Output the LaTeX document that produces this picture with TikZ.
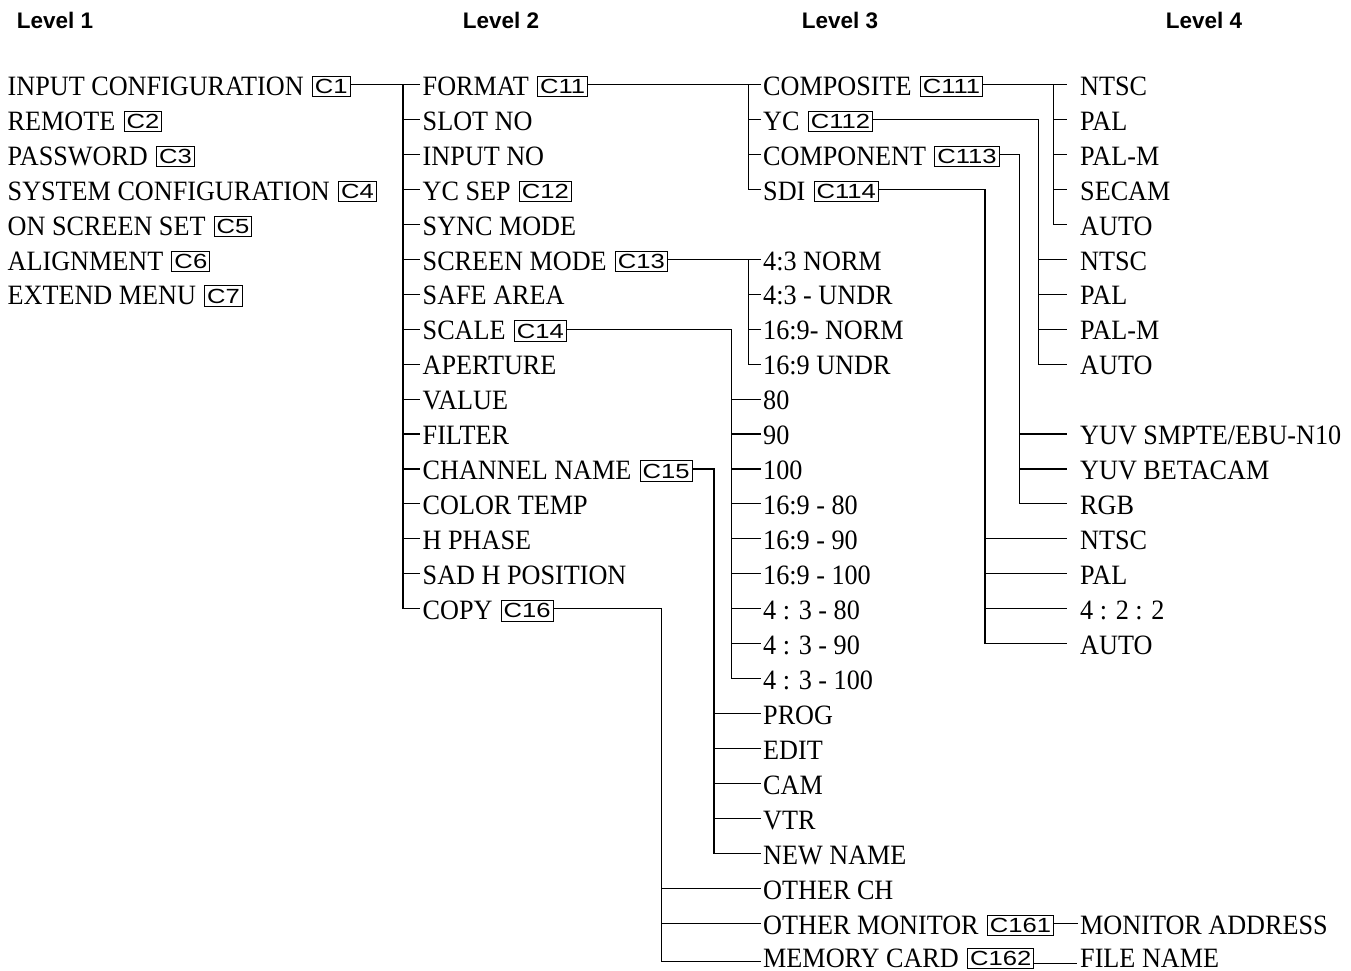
\documentclass[tikz,border=0pt]{standalone}
\usepackage{fontspec}
\setmainfont{Liberation Serif}[FakeStretch=0.935]
\newfontfamily\tagfont{Liberation Sans}[FakeStretch=1.25]
\newfontfamily\levelfont{Liberation Sans}
% vertical position of menu row #1 (line height of the listing)
\newcommand\rowy[1]{84.5+34.95*(#1)}
\tikzset{
  item/.style={anchor=west, inner sep=0pt, text height=21.5pt, text depth=0pt,
    font=\fontsize{28}{30}\selectfont},
  tag/.style={draw, line width=1pt, anchor=west, inner xsep=2.5pt, inner ysep=0pt,
    text height=17.3pt, text depth=3.2pt, font=\tagfont\fontsize{20.5}{22}\selectfont},
  head/.style={anchor=base, font=\levelfont\bfseries\fontsize{22.5}{24}\selectfont},
  wire/.style={line width=1.1pt},
}
\begin{document}
\begin{tikzpicture}[x=1pt,y=-1pt]
\useasboundingbox (0,0) rectangle (1351,970);

% column headings
\node[head] (h1) at (55,28) {Level 1};
\node[head] (h2) at (501,28) {Level 2};
\node[head] (h3) at (840,28) {Level 3};
\node[head] (h4) at (1204,28) {Level 4};

% ---------- level 1 ----------
\node[item] (a0) at (7.5,{\rowy{0}}) {INPUT CONFIGURATION};
\node[item] (a1) at (7.5,{\rowy{1}}) {REMOTE};
\node[item] (a2) at (7.5,{\rowy{2}}) {PASSWORD};
\node[item] (a3) at (7.5,{\rowy{3}}) {SYSTEM CONFIGURATION};
\node[item] (a4) at (7.5,{\rowy{4}}) {ON SCREEN SET};
\node[item] (a5) at (7.5,{\rowy{5}}) {ALIGNMENT};
\node[item] (a6) at (7.5,{\rowy{6}}) {EXTEND MENU};
\node[tag] (ta0) at ([xshift=8pt,yshift=-2pt]a0.east) {C1};
\node[tag] (ta1) at ([xshift=8pt,yshift=-2pt]a1.east) {C2};
\node[tag] (ta2) at ([xshift=8pt,yshift=-2pt]a2.east) {C3};
\node[tag] (ta3) at ([xshift=8pt,yshift=-2pt]a3.east) {C4};
\node[tag] (ta4) at ([xshift=8pt,yshift=-2pt]a4.east) {C5};
\node[tag] (ta5) at ([xshift=8pt,yshift=-2pt]a5.east) {C6};
\node[tag] (ta6) at ([xshift=8pt,yshift=-2pt]a6.east) {C7};

% ---------- level 2 ----------
\node[item] (b0) at (422.5,{\rowy{0}}) {FORMAT};
\node[item] (b1) at (422.5,{\rowy{1}}) {SLOT NO};
\node[item] (b2) at (422.5,{\rowy{2}}) {INPUT NO};
\node[item] (b3) at (422.5,{\rowy{3}}) {YC SEP};
\node[item] (b4) at (422.5,{\rowy{4}}) {SYNC MODE};
\node[item] (b5) at (422.5,{\rowy{5}}) {SCREEN MODE};
\node[item] (b6) at (422.5,{\rowy{6}}) {SAFE AREA};
\node[item] (b7) at (422.5,{\rowy{7}}) {SCALE};
\node[item] (b8) at (422.5,{\rowy{8}}) {APERTURE};
\node[item] (b9) at (422.5,{\rowy{9}}) {VALUE};
\node[item] (b10) at (422.5,{\rowy{10}}) {FILTER};
\node[item] (b11) at (422.5,{\rowy{11}}) {CHANNEL NAME};
\node[item] (b12) at (422.5,{\rowy{12}}) {COLOR TEMP};
\node[item] (b13) at (422.5,{\rowy{13}}) {H PHASE};
\node[item] (b14) at (422.5,{\rowy{14}}) {SAD H POSITION};
\node[item] (b15) at (422.5,{\rowy{15}}) {COPY};
\node[tag] (tb0) at ([xshift=8pt,yshift=-2pt]b0.east) {C11};
\node[tag] (tb3) at ([xshift=8pt,yshift=-2pt]b3.east) {C12};
\node[tag] (tb5) at ([xshift=8pt,yshift=-2pt]b5.east) {C13};
\node[tag] (tb7) at ([xshift=8pt,yshift=-2pt]b7.east) {C14};
\node[tag] (tb11) at ([xshift=8pt,yshift=-2pt]b11.east) {C15};
\node[tag] (tb15) at ([xshift=8pt,yshift=-2pt]b15.east) {C16};

% ---------- level 3 ----------
\node[item] (c0) at (763,{\rowy{0}}) {COMPOSITE};
\node[item] (c1) at (763,{\rowy{1}}) {YC};
\node[item] (c2) at (763,{\rowy{2}}) {COMPONENT};
\node[item] (c3) at (763,{\rowy{3}}) {SDI};
\node[item] (c5) at (763,{\rowy{5}}) {4:3 NORM};
\node[item] (c6) at (763,{\rowy{6}}) {4:3 - UNDR};
\node[item] (c7) at (763,{\rowy{7}}) {16:9- NORM};
\node[item] (c8) at (763,{\rowy{8}}) {16:9 UNDR};
\node[item] (c9) at (763,{\rowy{9}}) {80};
\node[item] (c10) at (763,{\rowy{10}}) {90};
\node[item] (c11) at (763,{\rowy{11}}) {100};
\node[item] (c12) at (763,{\rowy{12}}) {16:9 - 80};
\node[item] (c13) at (763,{\rowy{13}}) {16:9 - 90};
\node[item] (c14) at (763,{\rowy{14}}) {16:9 - 100};
\node[item] (c15) at (763,{\rowy{15}}) {4 : 3 - 80};
\node[item] (c16) at (763,{\rowy{16}}) {4 : 3 - 90};
\node[item] (c17) at (763,{\rowy{17}}) {4 : 3 - 100};
\node[item] (c18) at (763,{\rowy{18}}) {PROG};
\node[item] (c19) at (763,{\rowy{19}}) {EDIT};
\node[item] (c20) at (763,{\rowy{20}}) {CAM};
\node[item] (c21) at (763,{\rowy{21}}) {VTR};
\node[item] (c22) at (763,{\rowy{22}}) {NEW NAME};
\node[item] (c23) at (763,{\rowy{23}}) {OTHER CH};
\node[item] (c24) at (763,{\rowy{24}}) {OTHER MONITOR};
\node[item] (c25) at (763,{\rowy{25}-2}) {MEMORY CARD};
\node[tag] (tc0) at ([xshift=8pt,yshift=-2pt]c0.east) {C111};
\node[tag] (tc1) at ([xshift=8pt,yshift=-2pt]c1.east) {C112};
\node[tag] (tc2) at ([xshift=8pt,yshift=-2pt]c2.east) {C113};
\node[tag] (tc3) at ([xshift=8pt,yshift=-2pt]c3.east) {C114};
\node[tag] (tc24) at ([xshift=8pt,yshift=-2pt]c24.east) {C161};
\node[tag] (tc25) at ([xshift=8pt,yshift=-2pt]c25.east) {C162};

% ---------- level 4 ----------
\node[item] (d0) at (1080,{\rowy{0}}) {NTSC};
\node[item] (d1) at (1080,{\rowy{1}}) {PAL};
\node[item] (d2) at (1080,{\rowy{2}}) {PAL-M};
\node[item] (d3) at (1080,{\rowy{3}}) {SECAM};
\node[item] (d4) at (1080,{\rowy{4}}) {AUTO};
\node[item] (d5) at (1080,{\rowy{5}}) {NTSC};
\node[item] (d6) at (1080,{\rowy{6}}) {PAL};
\node[item] (d7) at (1080,{\rowy{7}}) {PAL-M};
\node[item] (d8) at (1080,{\rowy{8}}) {AUTO};
\node[item] (d10) at (1080,{\rowy{10}}) {YUV SMPTE/EBU-N10};
\node[item] (d11) at (1080,{\rowy{11}}) {YUV BETACAM};
\node[item] (d12) at (1080,{\rowy{12}}) {RGB};
\node[item] (d13) at (1080,{\rowy{13}}) {NTSC};
\node[item] (d14) at (1080,{\rowy{14}}) {PAL};
\node[item] (d15) at (1080,{\rowy{15}}) {4 : 2 : 2};
\node[item] (d16) at (1080,{\rowy{16}}) {AUTO};
\node[item] (d24) at (1080,{\rowy{24}}) {MONITOR ADDRESS};
\node[item] (d25) at (1080,{\rowy{25}-2}) {FILE NAME};

% ---------- connectors: level 1 -> level 2 ----------
\coordinate (k0) at (403,{\rowy{0}});
\draw[wire] (ta0.east |- a0.east) -- ([xshift=-3pt]b0.west);
\draw[wire] (k0) |- ([xshift=-3pt]b15.west);
\foreach \n in {b1,b2,b3,b4,b5,b6,b7,b8,b9,b10,b11,b12,b13,b14}
  \draw[wire] (\n.west -| k0) -- ([xshift=-3pt]\n.west);

% ---------- connectors: level 2 -> level 3 ----------
% FORMAT
\coordinate (k11) at (748.5,{\rowy{0}});
\draw[wire] (tb0.east |- b0.east) -- ([xshift=-2pt]c0.west);
\draw[wire] (k11) |- ([xshift=-2pt]c3.west);
\foreach \n in {c1,c2}
  \draw[wire] (\n.west -| k11) -- ([xshift=-2pt]\n.west);
% SCREEN MODE
\coordinate (k13) at (748.5,{\rowy{5}});
\draw[wire] (tb5.east |- b5.east) -- ([xshift=-2pt]c5.west);
\draw[wire] (k13) |- ([xshift=-2pt]c8.west);
\foreach \n in {c6,c7}
  \draw[wire] (\n.west -| k13) -- ([xshift=-2pt]\n.west);
% SCALE
\coordinate (k14) at (731.7,{\rowy{7}});
\draw[wire] (tb7.east |- b7.east) -- (k14) |- ([xshift=-2pt]c17.west);
\foreach \n in {c9,c10,c11,c12,c13,c14,c15,c16}
  \draw[wire] (\n.west -| k14) -- ([xshift=-2pt]\n.west);
% CHANNEL NAME
\coordinate (k15) at (714,{\rowy{11}});
\draw[wire] (tb11.east |- b11.east) -- (k15) |- ([xshift=-2pt]c22.west);
\foreach \n in {c18,c19,c20,c21}
  \draw[wire] (\n.west -| k15) -- ([xshift=-2pt]\n.west);
% COPY
\coordinate (k16) at (661.7,{\rowy{15}});
\draw[wire] (tb15.east |- b15.east) -- (k16) |- ([xshift=-2pt,yshift=-5.5pt]c25.west);
\foreach \n in {c23,c24}
  \draw[wire] (\n.west -| k16) -- ([xshift=-2pt]\n.west);

% ---------- connectors: level 3 -> level 4 ----------
% COMPOSITE
\coordinate (k111) at (1053.5,{\rowy{0}});
\draw[wire] (tc0.east |- c0.east) -- ([xshift=-13pt]d0.west);
\draw[wire] (k111) |- ([xshift=-13pt]d4.west);
\foreach \n in {d1,d2,d3}
  \draw[wire] (\n.west -| k111) -- ([xshift=-13pt]\n.west);
% YC
\coordinate (k112) at (1038.3,{\rowy{1}});
\draw[wire] (tc1.east |- c1.east) -- (k112) |- ([xshift=-13pt]d8.west);
\foreach \n in {d5,d6,d7}
  \draw[wire] (\n.west -| k112) -- ([xshift=-13pt]\n.west);
% COMPONENT
\coordinate (k113) at (1019.3,{\rowy{2}});
\draw[wire] (tc2.east |- c2.east) -- (k113) |- ([xshift=-13pt]d12.west);
\foreach \n in {d10,d11}
  \draw[wire] (\n.west -| k113) -- ([xshift=-13pt]\n.west);
% SDI
\coordinate (k114) at (985,{\rowy{3}});
\draw[wire] (tc3.east |- c3.east) -- (k114) |- ([xshift=-13pt]d16.west);
\foreach \n in {d13,d14,d15}
  \draw[wire] (\n.west -| k114) -- ([xshift=-13pt]\n.west);
% OTHER MONITOR / MEMORY CARD
\draw[wire] (tc24.east |- c24.east) -- ([xshift=-2pt]d24.west);
\draw[wire] ([yshift=-5pt]tc25.east) -- ([xshift=-3pt,yshift=-7pt]d25.west);
\end{tikzpicture}
\end{document}
